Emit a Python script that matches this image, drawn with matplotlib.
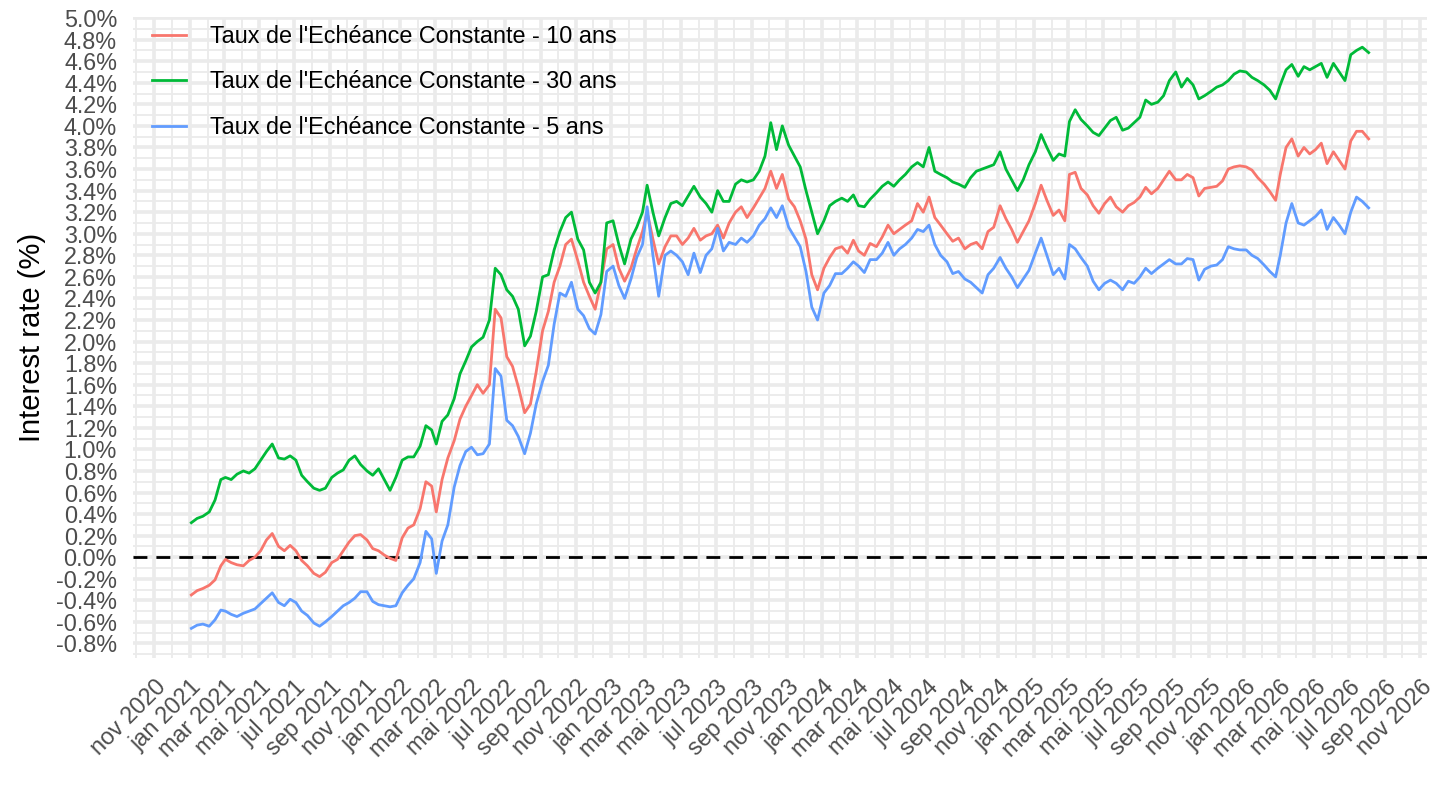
import datetime as dt

import matplotlib
matplotlib.use("Agg")
from matplotlib import pyplot as plt
import matplotlib.dates as mdates
from matplotlib.ticker import FuncFormatter, MultipleLocator

plt.rcParams['font.family'] = ['Liberation Sans', 'DejaVu Sans']
plt.rcParams['lines.scale_dashes'] = False

# sampling days: the 4th, 14th and 24th of each month, Jan 2021 -> Aug 2026
dates = [dt.date(y, m, d) for y in range(2021, 2027) for m in range(1, 13)
         for d in (4, 14, 24) if (y, m) <= (2026, 7)] + [dt.date(2026, 8, 4)]

# Taux de l'Echéance Constante - 10 ans (%)
taux_10 = [
    -0.35, -0.31, -0.29, -0.26, -0.21, -0.08, -0.02, -0.05, -0.07, -0.08, -0.03, 0.00,
    0.06, 0.16, 0.22, 0.10, 0.06, 0.11, 0.06, -0.03, -0.08, -0.15, -0.18, -0.14,
    -0.05, -0.02, 0.06, 0.14, 0.20, 0.21, 0.16, 0.08, 0.06, 0.02, -0.01, -0.03,
    0.18, 0.27, 0.30, 0.45, 0.70, 0.66, 0.42, 0.72, 0.92, 1.08, 1.28, 1.40,
    1.50, 1.60, 1.52, 1.60, 2.30, 2.22, 1.86, 1.77, 1.58, 1.34, 1.42, 1.72,
    2.10, 2.28, 2.55, 2.70, 2.90, 2.95, 2.75, 2.55, 2.42, 2.30, 2.55, 2.86,
    2.90, 2.68, 2.56, 2.68, 2.86, 3.02, 3.20, 2.95, 2.72, 2.88, 2.98, 2.98,
    2.90, 2.96, 3.05, 2.94, 2.98, 3.00, 3.08, 2.96, 3.10, 3.20, 3.25, 3.15,
    3.24, 3.33, 3.42, 3.58, 3.42, 3.55, 3.32, 3.25, 3.12, 2.95, 2.62, 2.48,
    2.68, 2.78, 2.86, 2.88, 2.82, 2.94, 2.84, 2.80, 2.91, 2.88, 2.97, 3.08,
    3.00, 3.04, 3.08, 3.12, 3.28, 3.20, 3.34, 3.15, 3.08, 3.00, 2.93, 2.96,
    2.86, 2.90, 2.92, 2.86, 3.02, 3.06, 3.26, 3.14, 3.04, 2.92, 3.02, 3.12,
    3.28, 3.45, 3.31, 3.17, 3.22, 3.12, 3.55, 3.57, 3.42, 3.36, 3.26, 3.19,
    3.28, 3.34, 3.25, 3.20, 3.26, 3.29, 3.34, 3.43, 3.37, 3.42, 3.50, 3.58,
    3.50, 3.50, 3.55, 3.52, 3.35, 3.42, 3.43, 3.44, 3.49, 3.60, 3.62, 3.63,
    3.62, 3.59, 3.52, 3.46, 3.39, 3.31, 3.55, 3.80, 3.88, 3.72, 3.80, 3.74,
    3.78, 3.84, 3.65, 3.76, 3.68, 3.60, 3.86, 3.95, 3.95, 3.88,
]

# Taux de l'Echéance Constante - 30 ans (%)
taux_30 = [
    0.32, 0.36, 0.38, 0.42, 0.53, 0.72, 0.74, 0.72, 0.77, 0.80, 0.78, 0.82,
    0.90, 0.98, 1.05, 0.92, 0.91, 0.94, 0.90, 0.76, 0.70, 0.64, 0.62, 0.64,
    0.74, 0.78, 0.81, 0.90, 0.94, 0.86, 0.80, 0.76, 0.82, 0.72, 0.62, 0.74,
    0.90, 0.93, 0.93, 1.03, 1.22, 1.18, 1.05, 1.26, 1.32, 1.47, 1.70, 1.82,
    1.95, 2.00, 2.04, 2.20, 2.68, 2.62, 2.48, 2.42, 2.30, 1.96, 2.05, 2.28,
    2.60, 2.62, 2.85, 3.02, 3.15, 3.20, 2.95, 2.85, 2.55, 2.45, 2.55, 3.10,
    3.12, 2.90, 2.72, 2.95, 3.06, 3.20, 3.45, 3.20, 2.98, 3.15, 3.28, 3.30,
    3.26, 3.35, 3.44, 3.34, 3.28, 3.20, 3.40, 3.30, 3.30, 3.46, 3.50, 3.48,
    3.50, 3.58, 3.72, 4.03, 3.78, 4.00, 3.82, 3.72, 3.62, 3.40, 3.20, 3.00,
    3.12, 3.26, 3.30, 3.33, 3.30, 3.36, 3.26, 3.25, 3.32, 3.38, 3.44, 3.48,
    3.44, 3.50, 3.55, 3.62, 3.66, 3.62, 3.80, 3.58, 3.55, 3.52, 3.48, 3.46,
    3.43, 3.52, 3.58, 3.60, 3.62, 3.64, 3.76, 3.60, 3.50, 3.40, 3.50, 3.64,
    3.76, 3.92, 3.80, 3.68, 3.74, 3.72, 4.04, 4.15, 4.06, 4.00, 3.94, 3.91,
    3.98, 4.05, 4.08, 3.96, 3.98, 4.03, 4.08, 4.24, 4.20, 4.22, 4.28, 4.42,
    4.50, 4.36, 4.44, 4.38, 4.25, 4.28, 4.32, 4.36, 4.38, 4.42, 4.48, 4.51,
    4.50, 4.45, 4.42, 4.38, 4.33, 4.25, 4.38, 4.52, 4.57, 4.46, 4.55, 4.52,
    4.55, 4.58, 4.45, 4.58, 4.50, 4.42, 4.66, 4.70, 4.73, 4.68,
]

# Taux de l'Echéance Constante - 5 ans (%)
taux_5 = [
    -0.66, -0.63, -0.62, -0.64, -0.58, -0.49, -0.50, -0.53, -0.55, -0.52, -0.50, -0.48,
    -0.43, -0.38, -0.33, -0.42, -0.45, -0.39, -0.42, -0.50, -0.54, -0.61, -0.64, -0.60,
    -0.55, -0.50, -0.45, -0.42, -0.38, -0.32, -0.32, -0.41, -0.44, -0.45, -0.46, -0.45,
    -0.33, -0.26, -0.20, -0.05, 0.24, 0.17, -0.15, 0.15, 0.30, 0.65, 0.85, 0.98,
    1.02, 0.95, 0.96, 1.05, 1.75, 1.68, 1.27, 1.22, 1.12, 0.96, 1.15, 1.42,
    1.63, 1.78, 2.16, 2.45, 2.42, 2.55, 2.30, 2.24, 2.12, 2.07, 2.25, 2.65,
    2.70, 2.52, 2.40, 2.58, 2.78, 2.90, 3.25, 2.80, 2.42, 2.80, 2.84, 2.80,
    2.74, 2.62, 2.82, 2.64, 2.80, 2.86, 3.05, 2.84, 2.92, 2.90, 2.96, 2.92,
    2.98, 3.08, 3.14, 3.24, 3.15, 3.26, 3.06, 2.97, 2.88, 2.65, 2.32, 2.20,
    2.45, 2.52, 2.63, 2.63, 2.68, 2.74, 2.70, 2.64, 2.76, 2.76, 2.82, 2.92,
    2.80, 2.86, 2.90, 2.96, 3.04, 3.02, 3.08, 2.90, 2.80, 2.74, 2.63, 2.65,
    2.58, 2.55, 2.50, 2.45, 2.62, 2.68, 2.78, 2.68, 2.60, 2.50, 2.58, 2.66,
    2.82, 2.96, 2.80, 2.62, 2.68, 2.58, 2.90, 2.86, 2.78, 2.70, 2.56, 2.48,
    2.54, 2.57, 2.54, 2.48, 2.56, 2.54, 2.60, 2.68, 2.63, 2.68, 2.72, 2.76,
    2.72, 2.72, 2.77, 2.76, 2.57, 2.67, 2.70, 2.71, 2.76, 2.88, 2.86, 2.85,
    2.85, 2.80, 2.77, 2.71, 2.65, 2.60, 2.80, 3.10, 3.28, 3.10, 3.08, 3.12,
    3.16, 3.22, 3.04, 3.15, 3.08, 3.00, 3.20, 3.34, 3.30, 3.24,
]

series = [
    ("Taux de l'Echéance Constante - 10 ans", taux_10, "#F8766D"),
    ("Taux de l'Echéance Constante - 30 ans", taux_30, "#00BA38"),
    ("Taux de l'Echéance Constante - 5 ans", taux_5, "#619CFF"),
]

mois = ['jan', 'fév', 'mar', 'avr', 'mai', 'jui', 'jul', 'aoû', 'sep', 'oct', 'nov', 'déc']

fig = plt.figure(figsize=(14.4, 8.1), dpi=100)
ax = fig.add_axes([133 / 1440, (810 - 657.5) / 810, 1294 / 1440, 640.5 / 810])

ax.axhline(0, color='black', lw=2.0, linestyle=(0, (10, 6.5)), zorder=2)
for label, values, colour in series:
    ax.plot(dates, values, color=colour, lw=2.0, label=label, zorder=3)

ax.set_ylim(-0.93, 5.01)
span = dates[-1] - dates[0]
ax.set_xlim(dates[0] - 0.05 * span, dates[-1] + 0.05 * span)

ax.yaxis.set_major_locator(MultipleLocator(0.2))
ax.yaxis.set_minor_locator(MultipleLocator(0.1))
ax.yaxis.set_major_formatter(FuncFormatter(lambda v, p: f"{round(v, 1) + 0.0:.1f}%"))
ax.xaxis.set_major_locator(mdates.MonthLocator(bymonth=[1, 3, 5, 7, 9, 11]))
ax.xaxis.set_minor_locator(mdates.MonthLocator())
ax.xaxis.set_major_formatter(FuncFormatter(
    lambda v, p: f"{mois[mdates.num2date(v).month - 1]} {mdates.num2date(v).year}"))

ax.grid(which='major', color='#EBEBEB', lw=2.6, zorder=0)
ax.grid(which='minor', color='#EBEBEB', lw=1.3, zorder=0)
ax.set_axisbelow(True)
for s in ax.spines.values():
    s.set_visible(False)
ax.tick_params(which='both', length=0)
ax.tick_params(axis='y', labelsize=16.8, labelcolor='#4D4D4D', pad=11.5)
ax.tick_params(axis='x', labelsize=16.8, labelcolor='#4D4D4D', pad=13)
for t in ax.get_xticklabels():
    t.set_rotation(45)
    t.set_ha('right')
    t.set_va('top')
    t.set_rotation_mode('anchor')

ax.set_ylabel('Interest rate (%)', fontsize=21, color='black')
ax.yaxis.set_label_coords((46 - 133) / 1294, 0.5)

fig.legend(loc='upper left', bbox_to_anchor=(152 / 1440, 1 - 25 / 810),
           frameon=False, fontsize=16.8, handlelength=1.46, handletextpad=1.03,
           labelspacing=0.96, borderpad=0, borderaxespad=0)

fig.savefig('out.png', dpi=100)
